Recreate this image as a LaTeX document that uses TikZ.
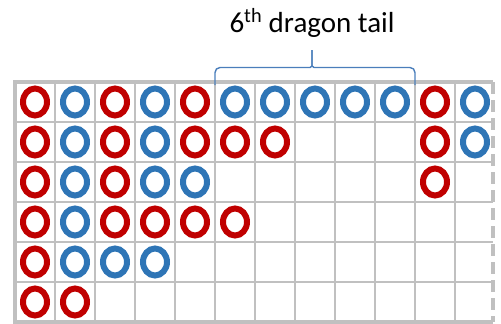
\documentclass[tikz,border=0pt]{standalone}
\usepackage{fontspec}
\setmainfont{Carlito}
\usetikzlibrary{shapes.geometric}
\definecolor{rring}{HTML}{C00000}
\definecolor{bring}{HTML}{2E75B6}
\definecolor{gridc}{HTML}{C0C0C0}
\definecolor{bracec}{HTML}{4A7EBB}
\tikzset{
  ring/.style={ellipse, draw=#1, line width=6pt, inner sep=0pt, minimum width=24pt, minimum height=27pt},
  gridline/.style={draw=gridc, line width=2.2pt},
  border/.style={draw=gridc, line width=3.2pt},
  bracepath/.style={draw=bracec, line width=1.4pt, rounded corners=5pt},
}
\begin{document}
\begin{tikzpicture}[x=1pt,y=-1pt]
\useasboundingbox (0,0) rectangle (501,324);
% grid
\foreach \k in {1,...,11} \draw[gridline] ({15+40*\k},82) -- ({15+40*\k},322);
\foreach \k in {1,...,5} \draw[gridline] (15,{82+40*\k}) -- (493,{82+40*\k});
\draw[border] (493,82) -- (15,82) -- (15,322) -- (493,322);
\draw[border, dash pattern=on 12pt off 6pt] (493,82) -- (493,322);
% rings
\foreach \r/\c in {1/1,1/3,1/5,1/11,2/1,2/3,2/5,2/6,2/7,2/11,3/1,3/3,3/11,4/1,4/3,4/4,4/5,4/6,5/1,6/1,6/2}
  \node[ring=rring] (c-\r-\c) at ({40*\c-5},{40*\r+62}) {};
\foreach \r/\c in {1/2,1/4,1/6,1/7,1/8,1/9,1/10,1/12,2/2,2/4,2/12,3/2,3/4,3/5,4/2,5/2,5/3,5/4}
  \node[ring=bring] (c-\r-\c) at ({40*\c-5},{40*\r+62}) {};
% brace
\coordinate (bl) at (215,85);
\coordinate (br) at (415,85);
\coordinate (tip) at (312,50);
\draw[bracepath] (bl) -- (215,67.5) -- (305,67.5) .. controls (310,67.5) and (312,66) .. (312,61) -- (tip);
\draw[bracepath] (br) -- (415,67.5) -- (319,67.5) .. controls (314,67.5) and (312,66) .. (312,61) -- (tip);
% label
\node[anchor=base, inner sep=0pt, font=\fontsize{29}{32}\selectfont] (label) at (312,32) {6\textsuperscript{th} dragon tail};
\end{tikzpicture}
\end{document}
